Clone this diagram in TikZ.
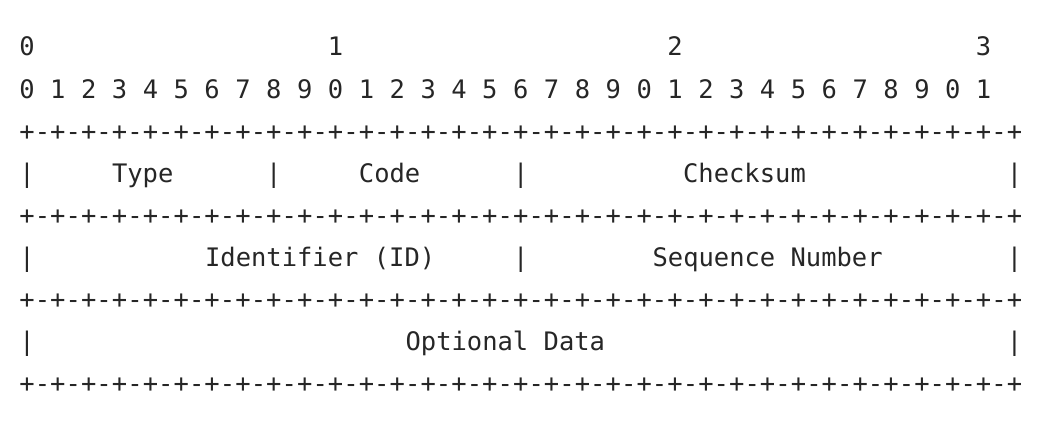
\documentclass[tikz,border=0pt]{standalone}
\usepackage{fontspec}
\setmonofont{DejaVu Sans Mono}
\tikzset{
    ascii/.style={font=\ttfamily\fontsize{14.5}{14.5}\selectfont,
        text=black!85, inner sep=0pt, anchor=base}
    }

\begin{document}
\begin{tikzpicture}[x=0.3086cm, y=-0.842cm]
        \useasboundingbox (-1.75,-1.33) rectangle (66.30,8.79);

        % bit numbers
        \foreach \c/\t [count=\i from 0] in {0/0,20/1,42/2,62/3}
            \node [ascii] (ten\i) at (\c,0) {\t};
        \foreach \b in {0,...,31}{
            \pgfmathtruncatemacro\d{mod(\b,10)}
            \node [ascii] (bit\b) at (2*\b,1) {\d};
        }

        % border lines
        \foreach \r in {2,4,6,8}
            \foreach \c in {0,...,64}{
                \pgfmathtruncatemacro\odd{mod(\c,2)}
                \ifnum\odd=0 \node [ascii] (plus\r-\c) at (\c,\r) {+};
                \else \node [ascii] (dash\r-\c) at (\c,\r) {-}; \fi
            }

        % field separators
        \foreach \c in {0,16,32,64}
            \node [ascii] (sepA\c) at (\c,3) {|};
        \foreach \c in {0,32,64}
            \node [ascii] (sepB\c) at (\c,5) {|};
        \foreach \c in {0,64}
            \node [ascii] (sepC\c) at (\c,7) {|};

        % fields
        \node [ascii] (type) at (7.5,3) {Type};
        \node [ascii] (code) at (23.5,3) {Code};
        \node [ascii] (checksum) at (46.5,3) {Checksum};
        \node [ascii] (ident) at (19,5) {Identifier (ID)};
        \node [ascii] (seqnum) at (48,5) {Sequence Number};
        \node [ascii] (data) at (31,7) {Optional Data};
    \end{tikzpicture}
\end{document}
